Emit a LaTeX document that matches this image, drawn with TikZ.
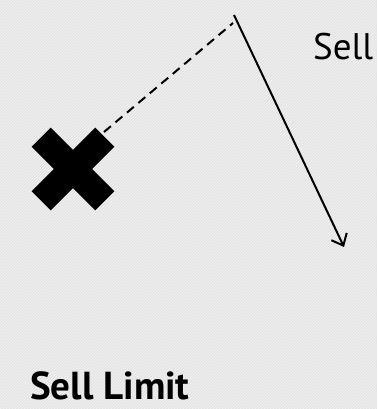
\documentclass[tikz,border=0pt]{standalone}
\usepackage{fontspec}
\setmainfont{PT Sans}
\usetikzlibrary{arrows.meta,patterns}
\definecolor{bgGray}{RGB}{228,228,228}
\definecolor{stripeGray}{RGB}{244,244,244}

\begin{document}
\begin{tikzpicture}[x=1pt,y=-1pt,>={Straight Barb[length=10pt,width=17pt,line width=2pt]}]
\fill[bgGray] (0,0) rectangle (377,409);
\fill[pattern=north east lines,pattern color=stripeGray] (0,0) rectangle (377,409);
\useasboundingbox (0,0) rectangle (377,409);
% order mark
\node[fill=black,minimum width=90pt,minimum height=27pt,inner sep=0pt,rotate=45] (armA) at (73,169) {};
\node[fill=black,minimum width=90pt,minimum height=27pt,inner sep=0pt,rotate=-45] (armB) at (73,169) {};
\coordinate (mark) at (104,132);
\coordinate (top) at (234,15);
\coordinate (hit) at (233,23);
\coordinate (target) at (344,247);
\draw[dash pattern=on 9pt off 6pt,line width=2pt] (mark) -- (hit);
\draw[->,line width=2pt] (top) -- (target);
% labels
\node[anchor=base west,inner sep=0pt,font=\fontsize{37}{40}\selectfont] (sell) at (313,60) {Sell};
\node[anchor=base west,inner sep=0pt,font=\fontsize{39}{42}\selectfont\bfseries] (limit) at (30,399) {Sell Limit};
\end{tikzpicture}
\end{document}
